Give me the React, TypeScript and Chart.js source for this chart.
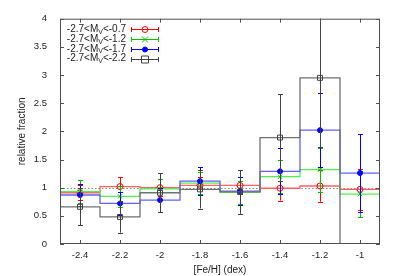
import React, { useEffect, useRef } from 'react';
import { Chart, registerables } from 'chart.js';

Chart.register(...registerables);

// ---------- data ----------
const binCenters = [-2.4, -2.2, -2.0, -1.8, -1.6, -1.4, -1.2, -1.0];
const binWidth = 0.2;
const xTickValues = [-2.4, -2.2, -2.0, -1.8, -1.6, -1.4, -1.2, -1.0];
const yTickValues = [0, 0.5, 1, 1.5, 2, 2.5, 3, 3.5, 4];
const referenceLevel = 1;

const seriesLabels = ['-2.7<M_V<-0.7', '-2.7<M_V<-1.2', '-2.7<M_V<-1.7', '-2.7<M_V<-2.2'];

const redValues = [0.91, 1.02, 1.0, 1.04, 1.04, 0.99, 1.03, 0.97];
const redErrors = [0.13, 0.17, 0.15, 0.15, 0.15, 0.22, 0.28, 0.36];
const greenValues = [0.93, 0.845, 0.98, 1.08, 0.915, 1.195, 1.32, 0.885];
const greenErrors = [0.2, 0.18, 0.18, 0.2, 0.2, 0.29, 0.39, 0.41];
const blueValues = [0.87, 0.72, 0.78, 1.115, 0.94, 1.29, 2.02, 1.26];
const blueErrors = [0.2, 0.2, 0.22, 0.25, 0.25, 0.41, 0.66, 0.69];
const blackValues = [0.66, 0.48, 0.91, 0.97, 0.925, 1.89, 2.95, 0];
const blackErrors = [0.33, 0.28, 0.35, 0.34, 0.39, 0.77, 1.23, null];

const FONT = "'Liberation Sans', Arial, Helvetica, sans-serif";

type Series = {
  label: string;
  values: number[];
  errors: (number | null)[];
  color: string;
  lineColor: string;
  marker: string;
  markerFill: string;
  radius: number;
};

const series: Series[] = [
  { label: seriesLabels[0], values: redValues, errors: redErrors, color: '#ff0000', lineColor: '#ff6060', marker: 'circle', markerFill: 'rgba(0,0,0,0)', radius: 3 },
  { label: seriesLabels[1], values: greenValues, errors: greenErrors, color: '#00c000', lineColor: '#50f050', marker: 'crossRot', markerFill: 'rgba(0,0,0,0)', radius: 3 },
  { label: seriesLabels[2], values: blueValues, errors: blueErrors, color: '#0000ff', lineColor: '#6060ff', marker: 'circle', markerFill: '#0000ff', radius: 2.5 },
  { label: seriesLabels[3], values: blackValues, errors: blackErrors, color: '#404040', lineColor: '#707070', marker: 'rect', markerFill: 'rgba(0,0,0,0)', radius: 3.5 },
];

function stepPoints(values: number[]) {
  const pts = values.map((v, i) => ({ x: binCenters[i] - binWidth / 2, y: v }));
  const last = values.length - 1;
  pts.push({ x: binCenters[last] + binWidth / 2, y: values[last] });
  return pts;
}

function drawMarker(ctx: CanvasRenderingContext2D, style: string, x: number, y: number, r: number, color: string, fill: string) {
  ctx.save();
  ctx.strokeStyle = color;
  ctx.fillStyle = fill;
  ctx.lineWidth = 1;
  ctx.beginPath();
  if (style === 'circle') {
    ctx.arc(x, y, r, 0, Math.PI * 2);
    ctx.fill();
    ctx.stroke();
  } else if (style === 'crossRot') {
    ctx.moveTo(x - r, y - r); ctx.lineTo(x + r, y + r);
    ctx.moveTo(x - r, y + r); ctx.lineTo(x + r, y - r);
    ctx.stroke();
  } else {
    ctx.rect(x - r, y - r, 2 * r, 2 * r);
    ctx.stroke();
  }
  ctx.restore();
}

const gnuplotPlugin = {
  id: 'gnuplotDecor',
  beforeDatasetsDraw(chart: any) {
    const { ctx, chartArea, scales } = chart;
    const y = scales.y.getPixelForValue(referenceLevel);
    ctx.save();
    ctx.strokeStyle = '#888888';
    ctx.lineWidth = 1;
    ctx.setLineDash([1.5, 2]);
    ctx.beginPath();
    ctx.moveTo(chartArea.left, Math.round(y) + 0.5);
    ctx.lineTo(chartArea.right, Math.round(y) + 0.5);
    ctx.stroke();
    ctx.restore();
  },
  beforeDatasetDraw(chart: any, args: any) {
    const ds = chart.data.datasets[args.index];
    if (!ds.errorBars) return;
    const { ctx, chartArea, scales } = chart;
    ctx.save();
    ctx.beginPath();
    ctx.rect(chartArea.left, chartArea.top, chartArea.right - chartArea.left, chartArea.bottom - chartArea.top);
    ctx.clip();
    ctx.strokeStyle = ds.borderColor;
    ctx.lineWidth = 1;
    ds.data.forEach((p: any, i: number) => {
      const e = ds.errorBars[i];
      if (p.y == null || e == null) return;
      const px = Math.round(scales.x.getPixelForValue(p.x)) + 0.5;
      const y1 = scales.y.getPixelForValue(p.y - e);
      const y2 = scales.y.getPixelForValue(p.y + e);
      ctx.beginPath();
      ctx.moveTo(px, y1); ctx.lineTo(px, y2);
      ctx.moveTo(px - 2.5, Math.round(y1) + 0.5); ctx.lineTo(px + 2.5, Math.round(y1) + 0.5);
      ctx.moveTo(px - 2.5, Math.round(y2) + 0.5); ctx.lineTo(px + 2.5, Math.round(y2) + 0.5);
      ctx.stroke();
    });
    ctx.restore();
  },
  afterDraw(chart: any) {
    const { ctx, chartArea, scales } = chart;
    const { left, right, top, bottom } = chartArea;
    ctx.save();
    // border
    ctx.strokeStyle = '#505050';
    ctx.lineWidth = 1;
    ctx.strokeRect(left + 0.5, top + 0.5, right - left - 1, bottom - top - 1);
    // inward ticks on all sides
    const tl = 4;
    ctx.beginPath();
    xTickValues.forEach((v) => {
      const px = Math.round(scales.x.getPixelForValue(v)) + 0.5;
      ctx.moveTo(px, bottom); ctx.lineTo(px, bottom - tl);
      ctx.moveTo(px, top); ctx.lineTo(px, top + tl);
    });
    yTickValues.forEach((v) => {
      const py = Math.round(scales.y.getPixelForValue(v)) + 0.5;
      ctx.moveTo(left, py); ctx.lineTo(left + tl, py);
      ctx.moveTo(right, py); ctx.lineTo(right - tl, py);
    });
    ctx.stroke();

    // axis titles
    ctx.fillStyle = '#222';
    ctx.font = `10px ${FONT}`;
    ctx.textAlign = 'center';
    ctx.textBaseline = 'middle';
    ctx.fillText('[Fe/H] (dex)', (left + right) / 2, 270);
    ctx.save();
    ctx.translate(22, (top + bottom) / 2);
    ctx.rotate(-Math.PI / 2);
    ctx.fillText('relative fraction', 0, 0);
    ctx.restore();

    // legend
    const textRight = left + 66;
    const sx1 = left + 71;
    const sx2 = left + 99;
    series.forEach((s, i) => {
      const ry = top + 10.7 + i * 9.7;
      const [pre, rest] = s.label.split('_');
      const sub = rest.charAt(0);
      const post = rest.slice(1);
      ctx.textBaseline = 'middle';
      ctx.textAlign = 'left';
      ctx.font = `10px ${FONT}`;
      const wPre = ctx.measureText(pre).width;
      const wPost = ctx.measureText(post).width;
      ctx.font = `7px ${FONT}`;
      const wSub = ctx.measureText(sub).width;
      let x = textRight - (wPre + wSub + wPost);
      ctx.font = `10px ${FONT}`;
      ctx.fillText(pre, x, ry);
      x += wPre;
      ctx.font = `7px ${FONT}`;
      ctx.fillText(sub, x, ry + 2.5);
      x += wSub;
      ctx.font = `10px ${FONT}`;
      ctx.fillText(post, x, ry);
      // sample
      const yy = Math.round(ry) + 0.5;
      ctx.strokeStyle = s.color;
      ctx.beginPath();
      ctx.moveTo(sx1, yy); ctx.lineTo(sx2, yy);
      ctx.moveTo(sx1 + 0.5, yy - 2.5); ctx.lineTo(sx1 + 0.5, yy + 2.5);
      ctx.moveTo(sx2 - 0.5, yy - 2.5); ctx.lineTo(sx2 - 0.5, yy + 2.5);
      ctx.stroke();
      drawMarker(ctx, s.marker, (sx1 + sx2) / 2, yy, s.radius, s.color, s.markerFill);
    });
    ctx.restore();
  },
};

export default function App() {
  const ref = useRef<HTMLCanvasElement>(null);
  useEffect(() => {
    document.body.style.margin = '0';
    const datasets: any[] = [];
    series.forEach((s, i) => {
      datasets.push({
        type: 'line',
        label: s.label + ' hist',
        data: stepPoints(s.values),
        stepped: 'before',
        borderColor: s.lineColor,
        borderWidth: 1.3,
        pointRadius: 0,
        fill: false,
        order: 100 - i * 2,
      });
      datasets.push({
        type: 'scatter',
        label: s.label,
        data: binCenters.map((c, j) => ({ x: c, y: s.errors[j] == null ? null : s.values[j] })),
        errorBars: s.errors,
        borderColor: s.color,
        backgroundColor: s.markerFill,
        pointStyle: s.marker,
        pointRadius: s.radius,
        pointBorderWidth: 1,
        showLine: false,
        order: 99 - i * 2,
      });
    });
    const chart = new Chart(ref.current!, {
      type: 'scatter',
      data: { datasets },
      options: {
        animation: false,
        responsive: false,
        devicePixelRatio: 1,
        layout: { padding: { left: 0, right: 15, top: 12, bottom: 0 } },
        plugins: { legend: { display: false }, tooltip: { enabled: false } },
        scales: {
          x: {
            type: 'linear',
            min: -2.5,
            max: -0.9,
            grid: { display: false, drawTicks: false },
            border: { display: false },
            afterBuildTicks: (s: any) => { s.ticks = xTickValues.map((v) => ({ value: v })); },
            afterFit: (s: any) => { s.height = 32; },
            ticks: {
              padding: 6,
              color: '#222',
              font: { family: FONT, size: 9.5 },
              maxRotation: 0,
              autoSkip: false,
              callback: (v: any) => String(Number(Number(v).toFixed(1))),
            },
          },
          y: {
            type: 'linear',
            min: 0,
            max: 4,
            grid: { display: false, drawTicks: false },
            border: { display: false },
            afterBuildTicks: (s: any) => { s.ticks = yTickValues.map((v) => ({ value: v })); },
            afterFit: (s: any) => { s.width = 60; },
            ticks: {
              padding: 13,
              color: '#222',
              font: { family: FONT, size: 9.5 },
              autoSkip: false,
              callback: (v: any) => String(Number(Number(v).toFixed(1))),
            },
          },
        },
      },
      plugins: [gnuplotPlugin],
    } as any);
    return () => chart.destroy();
  }, []);
  return (
    <div style={{ width: 395, height: 276 }}>
      <canvas ref={ref} width={395} height={276} />
    </div>
  );
}
